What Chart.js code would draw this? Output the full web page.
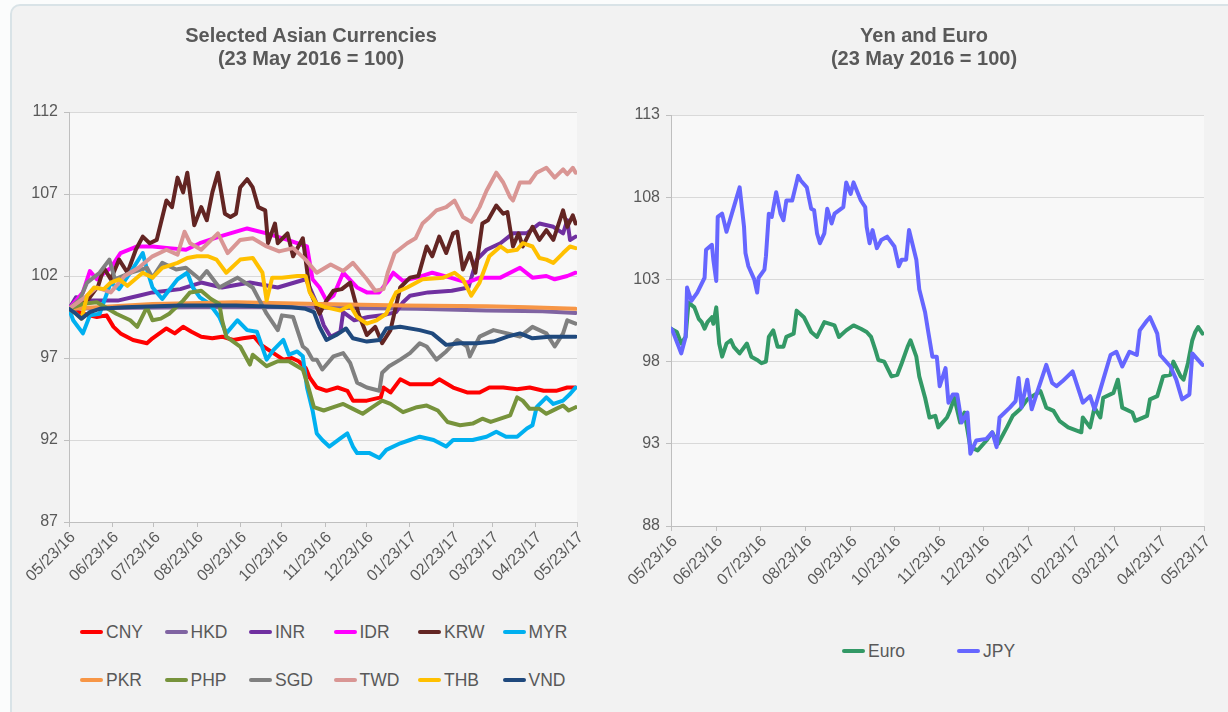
<!DOCTYPE html>
<html>
<head>
<meta charset="utf-8">
<title>Selected Asian Currencies / Yen and Euro</title>
<script src="https://cdn.jsdelivr.net/npm/chart.js@4.4.1/dist/chart.umd.min.js"></script>
<style>
  body { margin: 0; background: #fbfcfc; font-family: 'Liberation Sans', Arial, sans-serif; overflow: hidden; }
  #card { position: absolute; left: 10px; top: 4px; width: 1240px; height: 730px; background: #f2f2f2;
          border: 2px solid #d9e3e7; border-radius: 10px; }
  canvas { position: absolute; top: 0; }
  #asia { left: 0; }
  #yen { left: 600px; }
  .title { position: absolute; top: 23.5px; width: 400px; text-align: center; color: #595959;
           font-weight: bold; font-size: 20px; line-height: 23px; }
  .legend { position: absolute; display: flex; flex-wrap: wrap; color: #595959; font-size: 17.5px; }
  .item { display: flex; align-items: center; height: 48px; }
  .swatch { width: 23px; height: 4px; border-radius: 2px; margin-right: 3px; }
</style>
</head>
<body>
<div id="card"></div>
<canvas id="asia" width="600" height="600"></canvas>
<canvas id="yen" width="628" height="600"></canvas>
<div class="title" style="left:111px;">Selected Asian Currencies<br>(23 May 2016 = 100)</div>
<div class="title" style="left:724px;">Yen and Euro<br>(23 May 2016 = 100)</div>
<div class="legend" id="legAsia" style="left:80px; top:608px; width:510px;"></div>
<div class="legend" id="legYen" style="left:842px; top:627px; width:240px;"></div>
<script>
// x values are days after 23 May 2016
const tickDays = [0, 31, 61, 92, 123, 153, 184, 214, 245, 276, 304, 335, 365];
const tickLabels = ['05/23/16', '06/23/16', '07/23/16', '08/23/16', '09/23/16', '10/23/16', '11/23/16',
                    '12/23/16', '01/23/17', '02/23/17', '03/23/17', '04/23/17', '05/23/17'];

const cny = [[0,100],[10,99.7],[20,99.5],[27,99.6],[32,98.9],[37,98.5],[46,98.1],[56,97.9],[60,98.2],[70,98.8],[76,98.5],[82,98.9],[88,98.6],[95,98.3],[103,98.2],[110,98.3],[118,98.1],[125,98.2],[133,98.3],[138,97.8],[145,97.4],[154,96.9],[160,97.0],[165,96.8],[170,96.4],[173,95.8],[178,95.2],[185,95.0],[193,95.2],[200,95.0],[204,94.4],[214,94.4],[224,94.6],[226,95.2],[231,94.9],[238,95.7],[245,95.4],[252,95.4],[261,95.4],[266,95.7],[276,95.2],[286,94.9],[295,94.9],[302,95.2],[312,95.2],[322,95.1],[331,95.2],[341,95.0],[350,95.0],[358,95.2],[364,95.2]];
const hkd = [[0,100],[30,100.05],[90,100.1],[150,100.1],[200,100.05],[250,100.0],[300,99.9],[340,99.85],[364,99.75]];
const inr = [[0,100],[5,100.7],[17,100.5],[35,100.5],[50,100.8],[60,101.0],[80,101.2],[95,101.6],[110,101.3],[130,101.6],[150,101.3],[170,101.8],[172,101.5],[178,100.3],[183,99.0],[188,98.3],[195,98.6],[197,99.8],[205,99.3],[215,99.5],[225,99.6],[235,99.8],[240,100.4],[245,100.8],[258,101.0],[275,101.1],[287,101.3],[293,103.0],[300,103.6],[310,104.0],[319,104.6],[329,104.6],[338,105.2],[348,105.0],[355,104.6],[358,105.4],[360,104.2],[364,104.4]];
const idr = [[0,100],[10,101],[15,102.3],[20,101.8],[30,102.5],[37,103.4],[49,103.8],[60,103.8],[72,103.7],[84,103.6],[94,104.0],[108,104.4],[128,104.9],[142,104.6],[157,104.2],[171,103.8],[175,101.8],[180,101.3],[185,100.5],[190,100.8],[197,102.2],[207,101.3],[214,101.0],[223,101.0],[230,101.8],[233,102.2],[240,101.7],[250,101.9],[261,102.2],[274,101.9],[286,101.6],[295,101.9],[310,101.9],[324,102.5],[333,101.9],[343,102.0],[349,101.8],[358,102.0],[364,102.2]];
const krw = [[0,100],[7,100.3],[14,100.6],[21,101.4],[25,102.5],[30,101.8],[36,103.0],[42,102.2],[48,103.6],[53,104.4],[58,104.0],[63,104.2],[70,106.6],[74,106.2],[78,108.0],[82,107.1],[85,108.3],[90,105.1],[95,106.2],[99,105.4],[103,107.1],[107,108.3],[112,105.8],[116,105.6],[120,105.8],[123,107.4],[128,107.9],[132,107.4],[136,106.2],[141,106.0],[143,104.0],[148,105.2],[150,104.0],[157,104.6],[161,103.2],[168,104.3],[173,101.1],[180,99.7],[185,100.5],[190,101.1],[196,101.2],[202,101.6],[208,99.7],[214,98.4],[220,98.9],[225,97.9],[231,98.7],[238,101.3],[245,101.9],[251,102.0],[257,103.8],[261,103.2],[266,104.4],[271,103.4],[276,104.6],[279,104.7],[283,102.4],[288,103.4],[292,102.2],[297,105.2],[301,105.4],[307,106.3],[312,105.8],[315,105.9],[319,103.8],[323,104.6],[326,103.8],[333,105.0],[338,104.2],[343,104.8],[348,104.2],[355,106.0],[358,105.0],[362,105.7],[364,105.2]];
const myr = [[0,100],[3,99.3],[10,98.5],[15,99.6],[22,99.7],[30,101.6],[36,101.2],[44,102.2],[53,103.4],[56,102.4],[60,101.3],[67,100.6],[78,101.8],[85,102.2],[89,101.3],[94,100.7],[101,100.3],[108,99.5],[113,98.5],[121,99.3],[128,98.7],[135,98.6],[142,96.9],[147,97.5],[154,98.1],[158,97.2],[164,97.4],[168,97.1],[171,95.2],[175,93.8],[178,92.4],[182,92.0],[187,91.6],[195,92.1],[200,92.4],[204,91.6],[207,91.2],[216,91.2],[223,90.9],[228,91.4],[238,91.8],[245,92.0],[252,92.2],[262,92.0],[271,91.6],[276,92.0],[290,92.0],[300,92.2],[307,92.5],[314,92.2],[322,92.2],[329,92.7],[333,92.9],[336,94.0],[343,94.6],[348,94.2],[355,94.4],[360,94.8],[364,95.2]];
const pkr = [[0,100],[20,100.1],[60,100.3],[120,100.4],[180,100.3],[240,100.2],[300,100.15],[330,100.1],[364,100.0]];
const php = [[0,100],[10,100.3],[20,100.4],[28,100.0],[34,99.7],[44,99.3],[49,98.9],[56,100.1],[60,99.3],[66,99.4],[72,99.7],[82,100.5],[87,101.0],[95,101.1],[102,100.6],[108,100.3],[110,99.3],[113,98.3],[123,97.7],[130,96.6],[132,97.2],[142,96.5],[150,96.8],[158,96.8],[168,96.3],[171,95.5],[176,94.0],[183,93.8],[190,94.0],[197,94.2],[204,93.9],[211,93.6],[218,94.0],[225,94.4],[231,94.2],[240,93.7],[250,94.0],[257,94.1],[265,93.8],[272,93.1],[281,92.9],[290,93.0],[297,93.3],[303,93.1],[310,93.3],[317,93.5],[322,94.6],[326,94.4],[331,93.9],[338,93.9],[343,93.6],[350,93.9],[355,94.1],[359,93.8],[364,94.0]];
const sgd = [[0,100],[8,100.6],[13,101.6],[22,102.2],[29,103.0],[33,101.8],[44,102.2],[56,102.5],[60,101.9],[67,102.8],[77,102.4],[84,102.5],[94,101.8],[99,102.3],[108,101.3],[121,101.9],[132,101.3],[137,100.5],[142,99.7],[150,98.7],[153,99.6],[161,99.5],[168,97.7],[171,97.5],[175,96.9],[178,96.9],[182,96.3],[190,97.1],[197,97.3],[202,96.7],[207,95.5],[214,95.2],[223,95.0],[225,96.1],[230,96.5],[238,96.9],[245,97.3],[252,97.9],[257,97.7],[264,96.9],[271,97.4],[279,98.1],[286,97.7],[288,97.1],[295,98.3],[305,98.7],[315,98.5],[324,98.3],[333,98.9],[343,98.5],[349,97.7],[355,98.5],[358,99.3],[364,99.1]];
const twd = [[0,100],[10,100.6],[20,101.3],[30,101.0],[40,102.0],[50,102.5],[60,103.2],[70,103.6],[78,103.3],[83,104.7],[87,104.0],[95,103.6],[107,104.6],[114,103.4],[123,104.2],[132,104.3],[142,103.8],[151,103.5],[161,103.7],[170,103.0],[178,102.2],[188,102.7],[197,102.3],[204,102.8],[214,101.8],[220,101.1],[226,101.2],[229,102.2],[234,103.4],[243,104.0],[249,104.3],[254,105.2],[258,105.5],[264,106.0],[271,106.2],[277,106.6],[283,105.6],[289,105.3],[295,106.2],[300,107.2],[307,108.3],[312,107.7],[317,106.8],[319,106.6],[324,107.7],[331,107.7],[336,108.3],[343,108.6],[349,108.0],[355,108.5],[358,108.2],[362,108.6],[364,108.3]];
const thb = [[0,100],[5,99.7],[9,99.4],[13,100.8],[18,101.3],[25,101.2],[30,101.6],[36,101.8],[42,101.4],[53,102.2],[60,101.9],[67,102.5],[78,102.8],[85,103.1],[92,103.2],[100,103.2],[106,103.0],[113,102.2],[123,103.0],[132,103.1],[139,102.2],[142,100.5],[146,101.9],[153,101.9],[164,102.0],[170,102.0],[173,101.0],[178,100.3],[184,100.1],[195,99.9],[202,100.2],[207,99.5],[214,99.1],[221,99.3],[228,99.7],[232,100.5],[235,101.0],[243,101.3],[254,101.8],[269,101.9],[277,102.2],[283,101.8],[289,100.8],[295,101.6],[302,103.2],[310,103.8],[315,103.5],[322,103.6],[326,104.0],[333,103.8],[338,103.1],[343,103.0],[348,102.8],[355,103.4],[360,103.8],[364,103.7]];
const vnd = [[0,100],[5,99.7],[9,99.4],[15,99.8],[22,100.0],[40,100.1],[80,100.2],[120,100.2],[160,100.1],[170,100.0],[176,99.8],[180,98.9],[185,98.1],[192,98.4],[199,98.8],[204,98.2],[214,98.0],[223,98.1],[228,98.8],[238,98.9],[252,98.7],[261,98.5],[271,97.8],[281,97.9],[293,97.9],[305,98.0],[315,98.3],[324,98.5],[333,98.2],[345,98.3],[355,98.3],[364,98.3]];

const euro = [[0,100.0],[4,99.8],[7,99.1],[10,99.5],[12,101.6],[16,101.3],[19,100.6],[21,100.4],[23,100.0],[25,100.4],[28,100.7],[29,100.3],[31,101.3],[33,99.1],[35,98.3],[38,99.1],[41,99.3],[43,98.9],[47,98.5],[52,99.1],[55,98.3],[59,98.1],[62,97.9],[65,98.0],[66,98.7],[67,99.5],[70,99.9],[73,98.9],[77,98.9],[79,99.5],[84,99.7],[86,101.1],[91,100.7],[96,99.8],[100,99.5],[105,100.4],[112,100.2],[115,99.5],[120,99.9],[125,100.2],[130,100.0],[134,99.8],[137,99.5],[140,98.7],[142,98.1],[146,98.0],[151,97.1],[155,97.2],[158,97.9],[162,98.9],[164,99.3],[168,98.3],[170,97.1],[174,95.8],[177,94.6],[181,94.7],[183,94.0],[189,94.6],[191,95.0],[194,95.8],[198,94.3],[201,94.9],[205,92.8],[210,92.6],[216,93.2],[220,93.7],[224,93.0],[230,94.0],[234,94.7],[239,95.1],[244,95.7],[253,96.2],[257,95.2],[262,95.0],[266,94.4],[272,94.0],[281,93.7],[282,94.6],[287,94.0],[290,95.2],[294,94.6],[296,95.8],[303,96.1],[306,96.9],[309,95.2],[316,94.9],[318,94.4],[326,94.7],[328,95.7],[333,95.9],[337,97.1],[342,97.2],[344,98.0],[349,97.1],[351,96.9],[354,97.9],[357,99.3],[359,99.8],[361,100.1],[364,99.7]];
const jpy = [[0,100.0],[1,99.9],[7,98.5],[10,99.5],[11,102.5],[14,101.7],[18,102.2],[23,103.1],[24,104.8],[28,105.1],[29,104.2],[31,102.9],[32,106.8],[35,107.0],[38,105.9],[40,106.5],[43,107.4],[47,108.6],[50,106.2],[51,104.6],[53,103.8],[57,103.0],[59,102.2],[60,103.1],[64,103.6],[65,104.4],[67,107.0],[69,106.8],[72,108.3],[75,107.0],[77,106.6],[79,107.8],[83,107.8],[86,108.9],[87,109.3],[89,109.0],[93,108.6],[96,107.3],[98,107.2],[100,105.8],[102,105.2],[105,105.8],[107,107.3],[110,106.4],[112,107.0],[118,107.4],[120,108.9],[123,108.2],[125,108.9],[130,107.8],[133,107.4],[134,106.2],[136,105.2],[138,106.0],[141,104.9],[144,105.4],[148,105.6],[153,105.0],[156,103.8],[158,104.2],[161,104.2],[163,106.0],[168,104.2],[170,102.4],[174,101.0],[176,99.9],[179,98.3],[182,98.3],[184,96.5],[188,97.6],[190,95.5],[193,96.0],[196,96.0],[199,94.3],[203,94.9],[205,92.4],[209,93.2],[216,93.3],[220,93.7],[223,92.8],[225,94.6],[232,95.2],[236,95.6],[238,97.0],[240,95.2],[244,96.9],[247,95.1],[251,96.2],[257,97.8],[261,96.7],[264,96.5],[268,96.8],[275,97.4],[282,95.5],[287,95.9],[290,95.1],[296,96.9],[301,98.4],[305,98.6],[309,97.7],[314,98.6],[319,98.4],[321,99.9],[326,100.5],[328,100.7],[333,99.7],[335,98.4],[342,97.7],[346,96.9],[350,95.7],[355,96.0],[357,98.5],[360,98.2],[364,97.8]];

const asiaNames = ['CNY', 'HKD', 'INR', 'IDR', 'KRW', 'MYR', 'PKR', 'PHP', 'SGD', 'TWD', 'THB', 'VND'];
const asiaSeries = [cny, hkd, inr, idr, krw, myr, pkr, php, sgd, twd, thb, vnd];
const asiaColors = ['#ff0000', '#8064a2', '#7030a0', '#ff00ff', '#632523', '#00b0f0',
                    '#f79646', '#77933c', '#808080', '#d99694', '#ffc000', '#1f497d'];
const yenNames = ['Euro', 'JPY'];
const yenSeries = [euro, jpy];
const yenColors = ['#339966', '#6666ff'];

const FONT = "'Liberation Sans', Arial, sans-serif";
const TEXT = '#595959';

// light plot area behind the lines
const plotBg = {
    id: 'plotBg',
    beforeDraw(chart) {
        const { ctx, chartArea: a } = chart;
        ctx.save();
        ctx.fillStyle = '#f8f8f8';
        ctx.fillRect(a.left, a.top, a.right - a.left, a.bottom - a.top);
        ctx.restore();
    }
};

function buildDatasets(names, series, colors) {
    return names.map((name, i) => ({
        label: name,
        data: series[i].map(p => ({ x: p[0], y: p[1] })),
        borderColor: colors[i],
        backgroundColor: colors[i],
        borderWidth: 4,
        pointRadius: 0,
        tension: 0,
        fill: false,
        borderJoinStyle: 'round',
        borderCapStyle: 'round',
        order: names.length - i   // later series on top, like the original
    }));
}

function makeChart(el, datasets, yMin, yMax, yAxisW, padTop, padRight, xAxisH) {
    return new Chart(el, {
        type: 'line',
        data: { datasets: datasets },
        options: {
            responsive: false,
            animation: false,
            devicePixelRatio: 1,
            layout: { padding: { left: 0, right: padRight, top: padTop, bottom: 0 } },
            plugins: {
                legend: { display: false },
                tooltip: { enabled: false }
            },
            scales: {
                x: {
                    type: 'linear',
                    min: 0,
                    max: 365,
                    afterBuildTicks: scale => { scale.ticks = tickDays.map(v => ({ value: v })); },
                    afterFit: scale => { scale.height = xAxisH; },
                    ticks: {
                        autoSkip: false,
                        minRotation: 45,
                        maxRotation: 45,
                        padding: 1,
                        labelOffset: 4,
                        color: TEXT,
                        font: { family: FONT, size: 16 },
                        callback: (value, index) => tickLabels[index]
                    },
                    grid: { drawOnChartArea: false, color: '#bfbfbf', tickLength: 5 },
                    border: { color: '#bfbfbf' }
                },
                y: {
                    min: yMin,
                    max: yMax,
                    afterFit: scale => { scale.width = yAxisW; },
                    ticks: { stepSize: 5, padding: 6, color: TEXT, font: { family: FONT, size: 16 } },
                    grid: { color: '#d9d9d9', tickColor: '#bfbfbf', tickLength: 5 },
                    border: { color: '#bfbfbf' }
                }
            }
        },
        plugins: [plotBg]
    });
}

function buildLegend(id, names, colors, itemW) {
    const box = document.getElementById(id);
    names.forEach((name, i) => {
        const item = document.createElement('div');
        item.className = 'item';
        item.style.width = itemW + 'px';
        item.innerHTML = '<span class="swatch" style="background:' + colors[i] + '"></span>' + name;
        box.appendChild(item);
    });
}

makeChart(document.getElementById('asia'), buildDatasets(asiaNames, asiaSeries, asiaColors),
          87, 112, 69, 112, 23, 78);
makeChart(document.getElementById('yen'), buildDatasets(yenNames, yenSeries, yenColors),
          88, 113, 71, 115, 24, 74);

buildLegend('legAsia', asiaNames, asiaColors, 84.5);
buildLegend('legYen', yenNames, yenColors, 115);
</script>
</body>
</html>
